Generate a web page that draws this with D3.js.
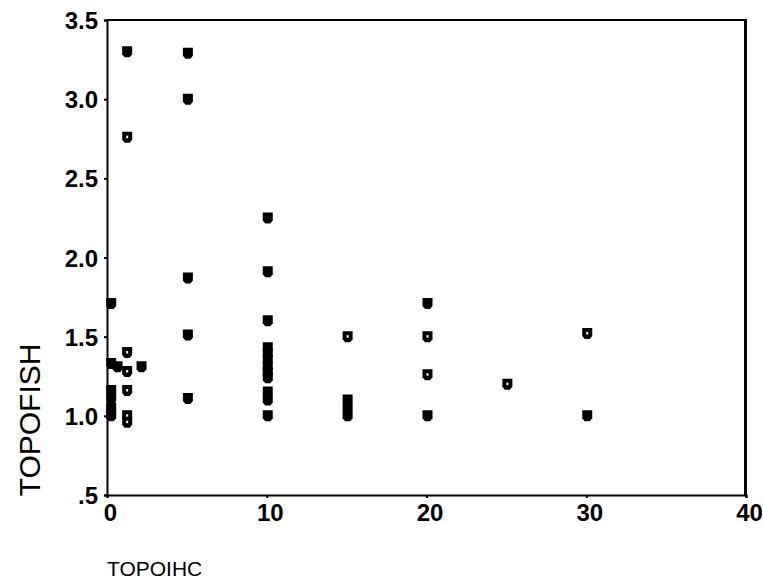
<!DOCTYPE html>
<html lang="en">
    <head>
        <meta charset="utf-8">
        <title>TOPOFISH vs TOPOIHC</title>
        <script type="text/javascript" src="https://d3js.org/d3.v7.min.js"></script>
        <style>
            body { margin: 0; background: #fff; }
        </style>
    </head>
    <body>
        <script type="text/javascript">
            // values
            var topoihc  = [0.2, 0.2, 0.6, 0.2, 0.2, 0.2, 0.2,
                            1.2, 1.2, 1.2, 1.2, 1.2, 1.2, 1.2, 2.1,
                            5, 5, 5, 5, 5,
                            10, 10, 10, 10, 10, 10, 10, 10, 10, 10, 10, 10,
                            15, 15, 15, 15,
                            20, 20, 20, 20,
                            25, 30, 30];
            var topofish = [1.71, 1.33, 1.31, 1.16, 1.11, 1.05, 1.00,
                            3.30, 2.76, 1.40, 1.28, 1.16, 1.00, 0.96, 1.31,
                            3.29, 3.00, 1.87, 1.51, 1.11,
                            2.25, 1.91, 1.60, 1.43, 1.39, 1.35, 1.31, 1.27, 1.24, 1.15, 1.10, 1.00,
                            1.50, 1.10, 1.05, 1.00,
                            1.71, 1.50, 1.26, 1.00,
                            1.20, 1.52, 1.00];
            // 1 = hollow marker (white centre), 0 = solid
            var hollow   = [0, 0, 0, 0, 0, 0, 0,
                            0, 1, 1, 1, 1, 1, 1, 0,
                            0, 0, 0, 0, 0,
                            0, 0, 0, 0, 0, 0, 0, 0, 0, 0, 0, 0,
                            1, 0, 0, 0,
                            0, 1, 1, 0,
                            1, 1, 0];

            var xTicks = [0, 10, 20, 30, 40];
            var yTicks = [0.5, 1.0, 1.5, 2.0, 2.5, 3.0, 3.5];
            var yTickLabels = ['.5', '1.0', '1.5', '2.0', '2.5', '3.0', '3.5'];

            var w = 763;
            var h = 585;
            var mLeft = 107, mRight = 746, mTop = 20, mBottom = 495;

            var svg = d3.select('body')
                        .append('svg')
                        .attr('width', w)
                        .attr('height', h);

            var x = d3.scaleLinear().domain([0, 40]).range([mLeft, mRight]);
            var y = d3.scaleLinear().domain([0.5, 3.5]).range([mBottom, mTop]);

            // frame: top and right edges
            svg.append('line')
               .attr('x1', mLeft).attr('x2', mRight)
               .attr('y1', mTop).attr('y2', mTop)
               .attr('stroke', '#000').attr('stroke-width', 2);
            svg.append('line')
               .attr('x1', mRight - 0.5).attr('x2', mRight - 0.5)
               .attr('y1', mTop - 1).attr('y2', mBottom)
               .attr('stroke', '#000').attr('stroke-width', 3);

            var xAxis = d3.axisBottom(x)
                          .tickValues(xTicks)
                          .tickSize(3)
                          .tickPadding(5)
                          .tickFormat(d3.format('d'));
            var yAxis = d3.axisLeft(y)
                          .tickValues(yTicks)
                          .tickSize(3)
                          .tickPadding(6)
                          .tickFormat(function(d, i){ return yTickLabels[i]; });

            var gx = svg.append('g')
                        .attr('transform', 'translate(0,' + mBottom + ')')
                        .call(xAxis);
            var gy = svg.append('g')
                        .attr('transform', 'translate(' + mLeft + ',0)')
                        .call(yAxis);

            [gx, gy].forEach(function(g){
                g.select('.domain').attr('stroke-width', 2);
                g.selectAll('.tick line').attr('stroke-width', 2);
                g.selectAll('text')
                 .attr('font-family', '"Liberation Sans", Arial, sans-serif')
                 .attr('font-weight', 'bold')
                 .attr('font-size', '24px')
                 .attr('fill', '#000');
            });
            gy.selectAll('text').attr('dy', '0.36em');
            gx.selectAll('text').attr('dy', '0.75em').attr('dx', 3);

            // SPSS-like shield marker
            var marker = 'M-5,-5.5 H5 V2.5 L2.5,5.5 H-2.5 L-5,2.5 Z';

            var pts = svg.selectAll('g.pt')
                         .data(topoihc)
                         .enter()
                         .append('g')
                         .attr('class', 'pt')
                         .attr('transform', function(d, i){
                             return 'translate(' + (x(d) + 1) + ',' + y(topofish[i]) + ')';
                         });
            pts.append('path')
               .attr('d', marker)
               .attr('fill', '#000');
            pts.filter(function(d, i){ return hollow[i] === 1; })
               .append('rect')
               .attr('x', -1).attr('y', -1.5)
               .attr('width', 2).attr('height', 2.5)
               .attr('fill', '#fff');

            // axis titles
            svg.append('text')
               .attr('x', mLeft)
               .attr('y', 576)
               .attr('font-family', '"Liberation Sans", Arial, sans-serif')
               .attr('font-size', '21px')
               .attr('fill', '#000')
               .text('TOPOIHC');

            svg.append('text')
               .attr('transform', 'translate(40,420) rotate(-90)')
               .attr('text-anchor', 'middle')
               .attr('font-family', '"Liberation Sans", Arial, sans-serif')
               .attr('font-size', '30px')
               .attr('fill', '#000')
               .text('TOPOFISH');
        </script>
    </body>
</html>
